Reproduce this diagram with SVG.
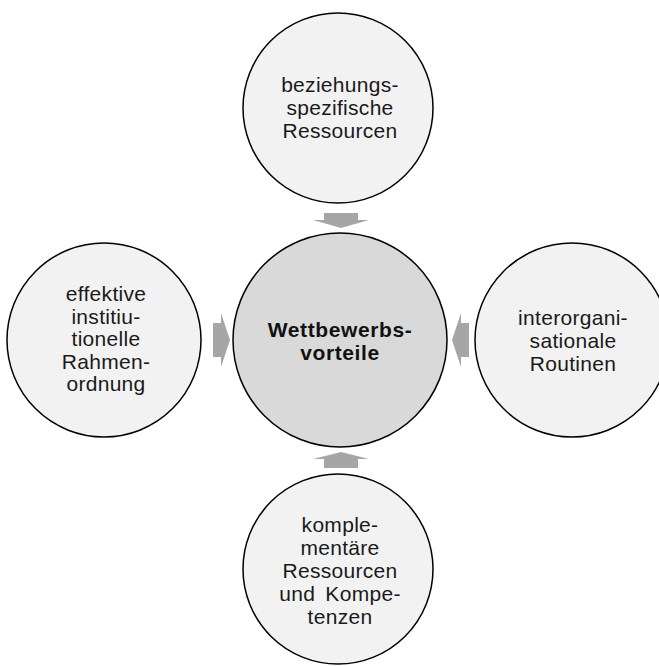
<svg xmlns="http://www.w3.org/2000/svg" width="659" height="666" viewBox="0 0 659 666">
  <style>
    .outer { fill: #f2f2f2; stroke: #000; stroke-width: 1.5; }
    .core { fill: #d9d9d9; stroke: #000; stroke-width: 1.5; }
    .arrow { fill: #a6a6a6; }
    .lbl { font-family: "Liberation Sans", Arial, sans-serif; font-size: 21px; fill: #1a1a1a; text-anchor: middle; letter-spacing: 0.3px; }
    .lbl-b { font-family: "Liberation Sans", Arial, sans-serif; font-size: 21px; font-weight: bold; fill: #111; text-anchor: middle; letter-spacing: 0.6px; }
  </style>
  <rect width="659" height="666" fill="#fff"/>

  <!-- arrows pointing into the central circle -->
  <g id="connectors">
    <polygon class="arrow" points="324,213 358,213 358,220 369,220 341,228 313,220 324,220"/>
    <polygon class="arrow" points="324,468 358,468 358,459 369,459 341,452 313,459 324,459"/>
    <polygon class="arrow" points="213,323 221,323 221,313 230,340 221,367 221,357 213,357"/>
    <polygon class="arrow" points="469,323 461,323 461,313 452,340 461,367 461,357 469,357"/>
  </g>

  <g id="node-center">
    <circle class="core" cx="340" cy="340" r="107"/>
    <text class="lbl-b" x="340" y="337">Wettbewerbs-</text>
    <text class="lbl-b" x="340" y="360">vorteile</text>
  </g>

  <g id="node-top">
    <circle class="outer" cx="338" cy="108" r="95"/>
    <text class="lbl" x="340" y="92">beziehungs-</text>
    <text class="lbl" x="340" y="115">spezifische</text>
    <text class="lbl" x="340" y="138">Ressourcen</text>
  </g>

  <g id="node-left">
    <circle class="outer" cx="104" cy="340" r="97"/>
    <text class="lbl" x="106" y="301">effektive</text>
    <text class="lbl" x="106" y="323.5">institiu-</text>
    <text class="lbl" x="106" y="346">tionelle</text>
    <text class="lbl" x="106" y="368.5">Rahmen-</text>
    <text class="lbl" x="106" y="391">ordnung</text>
  </g>

  <g id="node-right">
    <circle class="outer" cx="572" cy="340" r="97"/>
    <text class="lbl" x="573" y="325">interorgani-</text>
    <text class="lbl" x="573" y="348">sationale</text>
    <text class="lbl" x="573" y="371">Routinen</text>
  </g>

  <g id="node-bottom">
    <circle class="outer" cx="338" cy="569" r="95"/>
    <text class="lbl" x="340" y="532">komple-</text>
    <text class="lbl" x="340" y="555">mentäre</text>
    <text class="lbl" x="340" y="578">Ressourcen</text>
    <text class="lbl" x="340" y="601" word-spacing="4">und Kompe-</text>
    <text class="lbl" x="340" y="624">tenzen</text>
  </g>
</svg>
